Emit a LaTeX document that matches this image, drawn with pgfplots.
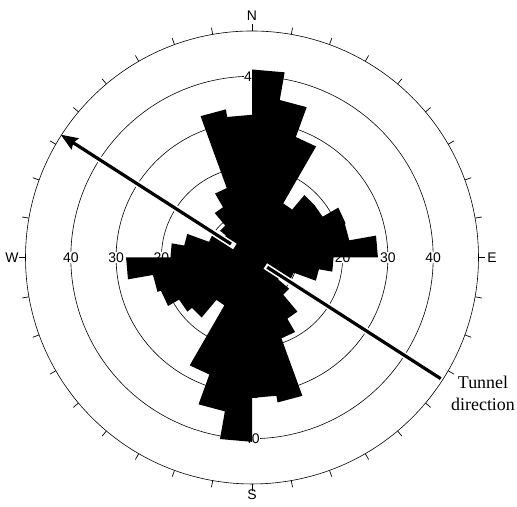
\documentclass[border=0pt]{standalone}
\usepackage{pgfplots}
\pgfplotsset{compat=1.18}
\usepackage{pgfplotstable}
\usepackage{fontspec}
\setmainfont{Liberation Serif}
\newfontfamily\arial{Liberation Sans}
\usetikzlibrary{arrows.meta}

% rose outline: bin edge angle (deg, clockwise from N), frequency
\pgfplotstableread{
a r
0 41.5
10 41.5
10 35.3
20 35.3
20 28.3
30 28.3
30 13.8
40 13.8
40 18
50 18
50 18
60 18
60 22
70 22
70 21.8
80 21.8
80 27.8
90 27.8
90 18
100 18
100 15
110 15
110 9.8
120 9.8
120 7.5
130 7.5
130 10.7
140 10.7
140 15.6
150 15.6
150 19
160 19
160 32.5
170 32.5
170 31
180 31
180 40.7
190 40.7
190 34.5
200 34.5
200 27.5
210 27.5
210 12.2
220 12.2
220 17.3
230 17.3
230 18.6
240 18.6
240 21.4
250 21.4
250 22.2
260 22.2
260 27.8
270 27.8
270 18
280 18
280 15.2
290 15.2
290 10
300 10
300 7.5
310 7.5
310 9.2
320 9.2
320 12.8
330 12.8
330 16.3
340 16.3
340 33.2
350 33.2
350 31.5
360 31.5
}\rose

\begin{document}
\begin{tikzpicture}
\begin{axis}[
  scale only axis, width=517bp, height=507bp,
  xmin=-55.63, xmax=58.50, ymin=-55.08, ymax=56.84,
  hide axis, clip=false,
]
% grid circles
\pgfplotsinvokeforeach{10,20,30,40,50}{
  \draw[line width=0.6bp] (axis cs:0,0) circle [radius=#1];
}
% ticks every 10 degrees
\pgfplotsinvokeforeach{0,10,...,350}{
  \draw[line width=0.7bp] (axis cs:{50*sin(#1)},{50*cos(#1)}) -- (axis cs:{51.5*sin(#1)},{51.5*cos(#1)});
}
% ring labels
\pgfplotsinvokeforeach{10,20,30,40}{
  \node[fill=white, inner sep=0.6bp, font=\arial\fontsize{14}{14}\selectfont] at (axis cs:#1,0) {#1};
  \node[fill=white, inner sep=0.6bp, font=\arial\fontsize{14}{14}\selectfont] at (axis cs:-#1,0) {#1};
  \node[fill=white, inner sep=0.6bp, font=\arial\fontsize{14}{14}\selectfont] at (axis cs:0,#1) {#1};
  \node[fill=white, inner sep=0.6bp, font=\arial\fontsize{14}{14}\selectfont] at (axis cs:0,-#1) {#1};
}
% rose petals
\addplot[fill=black, draw=none] table[x expr={\thisrow{r}*sin(\thisrow{a})}, y expr={\thisrow{r}*cos(\thisrow{a})}] {\rose} -- cycle;
% tunnel direction arrow with white halo
\draw[white, line width=6.5bp] (axis cs:{4.5*sin(302.7)},{4.5*cos(302.7)}) -- (axis cs:{44*sin(302.7)},{44*cos(302.7)});
\draw[white, line width=6.5bp] (axis cs:{3.5*sin(122.7)},{3.5*cos(122.7)}) -- (axis cs:{44*sin(122.7)},{44*cos(122.7)});
\draw[line width=3.2bp, -{Stealth[length=17bp, width=13bp, inset=2bp]}] (axis cs:{5.5*sin(302.7)},{5.5*cos(302.7)}) -- (axis cs:{50.2*sin(302.7)},{50.2*cos(302.7)});
\draw[line width=3.2bp] (axis cs:{4*sin(122.7)},{4*cos(122.7)}) -- (axis cs:{49.5*sin(122.7)},{49.5*cos(122.7)});
% compass letters
\node[anchor=south, inner sep=0pt, font=\arial\fontsize{14}{14}\selectfont] at (axis cs:0,52.2) {N};
\node[anchor=north, inner sep=0pt, font=\arial\fontsize{14}{14}\selectfont] at (axis cs:0,-51.3) {S};
\node[anchor=east, inner sep=0pt, font=\arial\fontsize{14}{14}\selectfont] at (axis cs:-51.5,0) {W};
\node[anchor=west, inner sep=0pt, font=\arial\fontsize{14}{14}\selectfont] at (axis cs:51.9,0) {E};
% annotation
\node[align=center, inner sep=0pt, font=\fontsize{18}{22}\selectfont] at (axis cs:51.0,-29.9) {Tunnel\\direction};
\end{axis}
\pgfresetboundingbox
\path (current axis.south west) rectangle (current axis.north east);
\end{tikzpicture}
\end{document}
